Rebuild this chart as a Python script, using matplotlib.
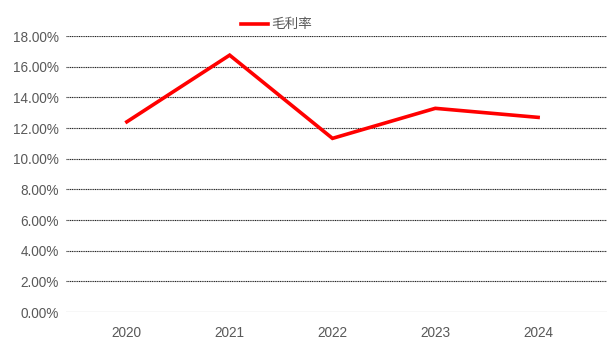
import matplotlib
matplotlib.use("Agg")
import matplotlib.pyplot as plt
from matplotlib.ticker import FuncFormatter

plt.rcParams['font.family'] = ['Liberation Sans', 'Noto Sans CJK SC', 'DejaVu Sans']

years = ["2020", "2021", "2022", "2023", "2024"]
gross_margin = [12.41, 16.76, 11.33, 13.29, 12.70]
y_ticks = [0, 2, 4, 6, 8, 10, 12, 14, 16, 18]

fig = plt.figure(figsize=(6.07, 3.41), dpi=100)
ax = fig.add_axes([0.109, 0.085, 0.891, 0.809])

x = list(range(len(years)))
ax.plot(x, gross_margin, color='#ff0000', lw=2.6, label='毛利率', solid_joinstyle='miter', zorder=3)

ax.set_ylim(0, 18)
ax.set_xlim(-0.59, 4.67)
ax.set_yticks(y_ticks)
ax.yaxis.set_major_formatter(FuncFormatter(lambda v, p: f"{v:.2f}%"))
ax.set_xticks(x)
ax.set_xticklabels(years)

for t in y_ticks[1:]:
    ax.axhline(t, color='#222222', lw=0.8, ls=(0, (1, 0.6)), zorder=1)
ax.axhline(0, color='#d9d9d9', lw=1.0, zorder=1)

for s in ax.spines.values():
    s.set_visible(False)
ax.tick_params(axis='both', length=0, colors='#595959', labelsize=9.8)
ax.tick_params(axis='x', pad=10)
ax.tick_params(axis='y', pad=5)

leg = fig.legend(loc='upper center', bbox_to_anchor=(0.455, 0.985), frameon=False,
                 fontsize=9.8, handlelength=2.0, handletextpad=0.2)
for t in leg.get_texts():
    t.set_color('#595959')

fig.savefig('out.png', dpi=100)
